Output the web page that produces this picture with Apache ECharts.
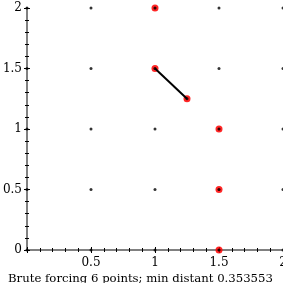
<!DOCTYPE html>
<html><head><meta charset="utf-8">
<script src="https://cdn.jsdelivr.net/npm/echarts@6/dist/echarts.min.js"></script>
<style>html,body{margin:0;padding:0;background:#fff}#c{width:283px;height:283px}</style>
</head><body><div id="c"></div>
<script>
const gridValues = [0, 0.5, 1, 1.5, 2];
const pointsX = [1, 1, 1.25, 1.5, 1.5, 1.5];
const pointsY = [2, 1.5, 1.25, 1, 0.5, 0];
const segmentX = [1, 1.25];
const segmentY = [1.5, 1.25];
const titleText = 'Brute forcing 6 points; min distant 0.353553';

const gridDots = [];
gridValues.forEach(x => gridValues.forEach(y => gridDots.push([x, y])));
const pts = pointsX.map((x, i) => [x, pointsY[i]]);
const seg = segmentX.map((x, i) => [x, segmentY[i]]);

const font = 'DejaVu Serif';
const axisCommon = {
  type: 'value', min: 0, max: 2, interval: 0.5,
  splitLine: {show: false},
  minorTick: {show: true, splitNumber: 5, length: 2, lineStyle: {color: '#000', width: 1}},
};
const chart = echarts.init(document.getElementById('c'));
chart.setOption({
  animation: false,
  title: {text: titleText, left: 8, top: 273, padding: 0, textStyle: {fontFamily: font, fontSize: 11.7, fontWeight: 'normal', color: '#000'}},
  grid: {left: 27, right: 0, top: 8, bottom: 33, containLabel: false, outerBoundsMode: 'none'},
  xAxis: [
    Object.assign({}, axisCommon, {
      position: 'bottom',
      axisLine: {show: true, lineStyle: {color: '#808080', width: 2}},
      axisTick: {show: true, length: 3, lineStyle: {color: '#000', width: 1}},
      axisLabel: {show: true, fontFamily: font, fontSize: 12, color: '#000', margin: 7, showMaxLabel: true,
        formatter: v => v === 0 ? '' : String(v)}
    }),
    Object.assign({}, axisCommon, {
      position: 'bottom',
      axisLine: {show: false},
      axisTick: {show: true, inside: true, length: 3, lineStyle: {color: '#000', width: 1}},
      axisLabel: {show: false}
    })
  ],
  yAxis: [
    Object.assign({}, axisCommon, {
      position: 'left',
      axisLine: {show: true, lineStyle: {color: '#808080', width: 2}},
      axisTick: {show: true, length: 3, lineStyle: {color: '#000', width: 1}},
      axisLabel: {show: true, fontFamily: font, fontSize: 12, color: '#000', margin: 5, showMaxLabel: true}
    }),
    Object.assign({}, axisCommon, {
      position: 'left',
      axisLine: {show: false},
      axisTick: {show: true, inside: true, length: 3, lineStyle: {color: '#000', width: 1}},
      axisLabel: {show: false}
    })
  ],
  series: [
    {type: 'scatter', data: gridDots, symbolSize: 3, itemStyle: {color: '#000'}, silent: true},
    {type: 'line', data: seg, showSymbol: false, lineStyle: {color: '#000', width: 2}, silent: true},
    {type: 'scatter', data: pts, symbolSize: 7, itemStyle: {color: '#f00', opacity: 0.85}, silent: true},
    {type: 'scatter', data: pts, symbolSize: 3, itemStyle: {color: '#000'}, silent: true}
  ]
});
</script></body></html>
